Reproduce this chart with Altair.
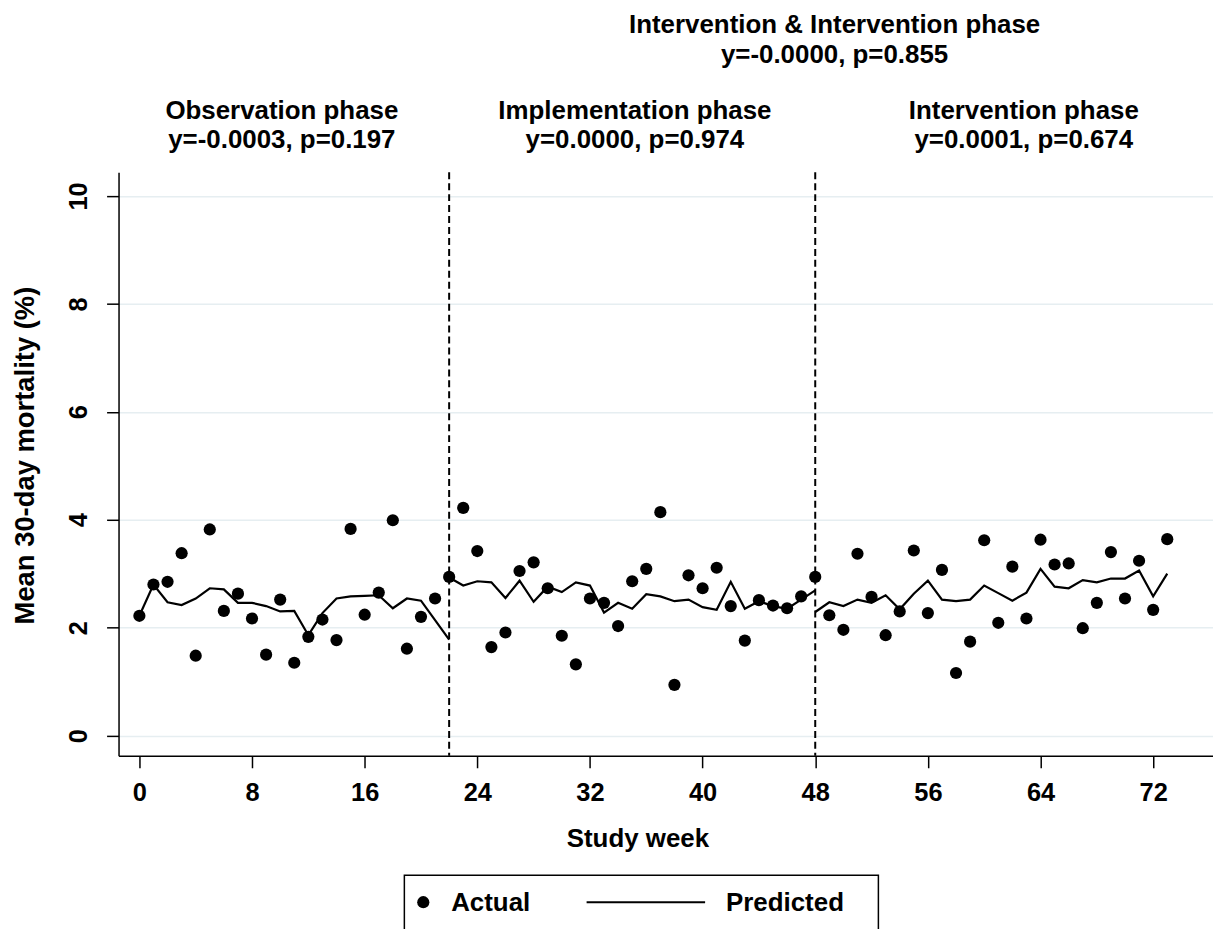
import altair as alt
import pandas as pd

# ---- data ----
weeks = list(range(0, 74))
actual = [2.22, 2.80, 2.85, 3.38, 1.48, 3.82, 2.31, 2.63, 2.17, 1.50,
          2.52, 1.35, 1.83, 2.15, 1.77, 3.83, 2.24, 2.65, 3.99, 1.61,
          2.20, 2.54, 2.94, 4.22, 3.42, 1.64, 1.91, 3.05, 3.21, 2.73,
          1.85, 1.32, 2.54, 2.46, 2.03, 2.86, 3.09, 4.14, 0.94, 2.97,
          2.73, 3.11, 2.40, 1.76, 2.51, 2.41, 2.36, 2.58, 2.94, 2.23,
          1.96, 3.37, 2.57, 1.86, 2.30, 3.43, 2.27, 3.07, 1.16, 1.74,
          3.62, 2.09, 3.13, 2.17, 3.63, 3.17, 3.19, 1.99, 2.46, 3.40,
          2.54, 3.24, 2.33, 3.64]

pred_obs_weeks = list(range(0, 23))
pred_obs = [2.22, 2.80, 2.47, 2.42, 2.54, 2.73, 2.71, 2.46, 2.46, 2.40,
            2.30, 2.31, 1.86, 2.27, 2.54, 2.58, 2.59, 2.60, 2.36, 2.54,
            2.50, 2.14, 1.78]
pred_impl_weeks = list(range(22, 49))
pred_impl = [2.93, 2.78, 2.86, 2.84, 2.55, 2.87, 2.48, 2.76, 2.66, 2.84,
             2.78, 2.28, 2.46, 2.35, 2.62, 2.58, 2.49, 2.52, 2.38, 2.33,
             2.85, 2.35, 2.49, 2.40, 2.35, 2.52, 2.69]
pred_int_weeks = list(range(48, 74))
pred_int = [2.29, 2.47, 2.40, 2.52, 2.46, 2.60, 2.34, 2.63, 2.87, 2.52,
            2.49, 2.52, 2.78, 2.64, 2.50, 2.65, 3.09, 2.76, 2.73, 2.88,
            2.84, 2.91, 2.91, 3.06, 2.58, 3.00]

phase_breaks = [22, 48]
x_ticks = [0, 8, 16, 24, 32, 40, 48, 56, 64, 72]
y_ticks = [0, 2, 4, 6, 8, 10]

top_title = ["Intervention & Intervention phase", "y=-0.0000, p=0.855"]
phase_titles = [
    ["Observation phase", "y=-0.0003, p=0.197"],
    ["Implementation phase", "y=0.0000, p=0.974"],
    ["Intervention phase", "y=0.0001, p=0.674"],
]
legend_labels = ["Actual", "Predicted"]

# ---- tables ----
actual_df = pd.DataFrame({"week": weeks, "value": actual})
pred_df = pd.concat([
    pd.DataFrame({"week": pred_obs_weeks, "value": pred_obs, "phase": "obs"}),
    pd.DataFrame({"week": pred_impl_weeks, "value": pred_impl, "phase": "impl"}),
    pd.DataFrame({"week": pred_int_weeks, "value": pred_int, "phase": "int"}),
])
breaks_df = pd.DataFrame({"week": phase_breaks})

FONT = "Liberation Sans"
FS = 26
W, H = 1099, 586

xscale = alt.Scale(domain=[-1.48, 76.25], nice=False, zero=False)
yscale = alt.Scale(domain=[-0.375, 10.44], nice=False, zero=False)

x_axis = alt.Axis(values=x_ticks, grid=False, labelFontSize=25.5, labelFont=FONT,
                  labelFontWeight="bold", labelColor="black", tickSize=12,
                  tickWidth=1.5, tickColor="black", domainColor="black",
                  domainWidth=1.5, labelPadding=33, labelBaseline="alphabetic",
                  labelFlush=False, title="Study week", titleFontSize=FS,
                  titleFont=FONT, titleFontWeight="bold", titleColor="black",
                  titleX=521, titleY=91, titleBaseline="alphabetic",
                  titleAlign="center")
y_axis = alt.Axis(values=y_ticks, grid=True, gridColor="#e6eef1", gridWidth=1.5,
                  labelFontSize=25.5, labelFont=FONT, labelFontWeight="bold",
                  labelColor="black", labelAngle=270, labelAlign="center",
                  labelBaseline="alphabetic", labelPadding=20, tickSize=12,
                  tickWidth=1.5, tickColor="black", domainColor="black",
                  domainWidth=1.5, labelFlush=False,
                  title="Mean 30-day mortality (%)", titleFontSize=27.5,
                  titleFont=FONT, titleFontWeight="bold", titleColor="black",
                  titleAngle=270, titleX=-85, titleY=284,
                  titleBaseline="alphabetic", titleAlign="center")

points = alt.Chart(actual_df).mark_circle(size=150, color="black", opacity=1).encode(
    x=alt.X("week:Q", scale=xscale, axis=x_axis),
    y=alt.Y("value:Q", scale=yscale, axis=y_axis))
lines = alt.Chart(pred_df).mark_line(color="black", strokeWidth=2.2).encode(
    x=alt.X("week:Q", scale=xscale), y=alt.Y("value:Q", scale=yscale),
    detail="phase:N")
rules = alt.Chart(breaks_df).mark_rule(color="black", strokeWidth=2,
                                       strokeDash=[7, 4]).encode(
    x=alt.X("week:Q", scale=xscale))


def label(lines_, px, py, align="center", size=FS, lh=29.5):
    return alt.Chart(pd.DataFrame({"t": ["\n".join(lines_)]})).mark_text(
        font=FONT, fontSize=size, fontWeight="bold", color="black",
        align=align, baseline="alphabetic", lineBreak="\n",
        lineHeight=lh).encode(
        x=alt.value(px), y=alt.value(py), text="t:N")


texts = [label(top_title, 719, -139.5)]
for lines_, cx in zip(phase_titles, [164, 518.5, 909]):
    texts.append(label(lines_, cx, -53.5))

legend_box = alt.Chart(pd.DataFrame({"a": [0]})).mark_rect(
    fill="transparent", stroke="black", strokeWidth=1.5).encode(
    x=alt.value(287), x2=alt.value(763), y=alt.value(706), y2=alt.value(820))
legend_dot = alt.Chart(pd.DataFrame({"a": [0]})).mark_circle(
    size=150, color="black", opacity=1).encode(x=alt.value(306), y=alt.value(733))
legend_line = alt.Chart(pd.DataFrame({"a": [0]})).mark_rule(
    color="black", strokeWidth=2).encode(
    x=alt.value(470), x2=alt.value(589), y=alt.value(733))
texts.append(label([legend_labels[0]], 334, 742, align="left"))
texts.append(label([legend_labels[1]], 610, 742, align="left"))

chart = alt.layer(points, lines, rules, legend_box, legend_dot, legend_line,
                  *texts).properties(
    width=W, height=H,
    autosize=alt.AutoSizeParams(type="none"),
    padding={"left": 111, "top": 163, "right": 0, "bottom": 172},
    background="white",
).configure_view(stroke=None)

chart.save("out.html", embed_options={"renderer": "svg", "actions": False})
